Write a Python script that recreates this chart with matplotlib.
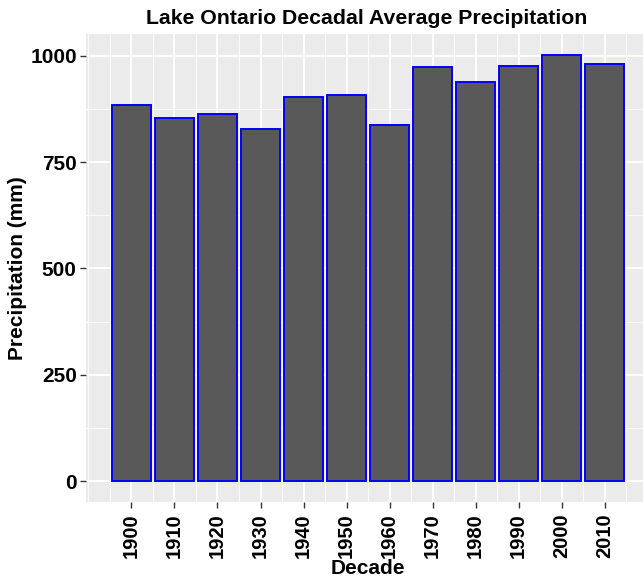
import numpy as np
import matplotlib
matplotlib.use("Agg")
import matplotlib.pyplot as plt
from matplotlib.ticker import MultipleLocator

decades = [1900, 1910, 1920, 1930, 1940, 1950, 1960, 1970, 1980, 1990, 2000, 2010]
precip = [885, 855, 864, 828, 903, 907, 838, 973, 939, 975, 1002, 981]

plt.rcParams['font.family'] = ['Liberation Sans', 'DejaVu Sans']

fig = plt.figure(figsize=(6.43, 5.82), dpi=100)
ax = fig.add_axes([0.1345, 0.137, 0.8655, 0.805])
ax.set_facecolor('#EBEBEB')

ax.bar(decades, precip, width=9, color='#595959', edgecolor='#0000FF',
       linewidth=1.4, zorder=3)

ax.set_xlim(1889.55, 2018.9)
ax.set_ylim(-50, 1052)
ax.set_xticks(decades)
ax.set_xticklabels([str(d) for d in decades], rotation=90)
ax.xaxis.set_minor_locator(MultipleLocator(5))
ax.yaxis.set_major_locator(MultipleLocator(250))
ax.yaxis.set_minor_locator(MultipleLocator(125))

ax.grid(which='major', color='white', linewidth=1.3, zorder=0)
ax.grid(which='minor', color='white', linewidth=0.6, zorder=0)
ax.set_axisbelow(True)
for s in ax.spines.values():
    s.set_visible(False)

ax.tick_params(which='major', length=4, width=1, color='#333333',
               labelsize=15, labelcolor='black', pad=3)
ax.tick_params(axis='x', which='major', labelsize=14.5, pad=4)
ax.tick_params(which='minor', length=0)
for lab in ax.get_xticklabels() + ax.get_yticklabels():
    lab.set_fontweight('bold')

ax.set_xlabel('Decade', fontsize=15, fontweight='bold')
ax.xaxis.set_label_coords(0.506, -0.122)
ax.set_ylabel('Precipitation (mm)', fontsize=15, fontweight='bold', labelpad=2)
fig.text(367 / 643, 1 - 18 / 582, 'Lake Ontario Decadal Average Precipitation',
         ha='center', va='center', fontsize=15.3, fontweight='bold')

fig.savefig('out.png', dpi=100)
